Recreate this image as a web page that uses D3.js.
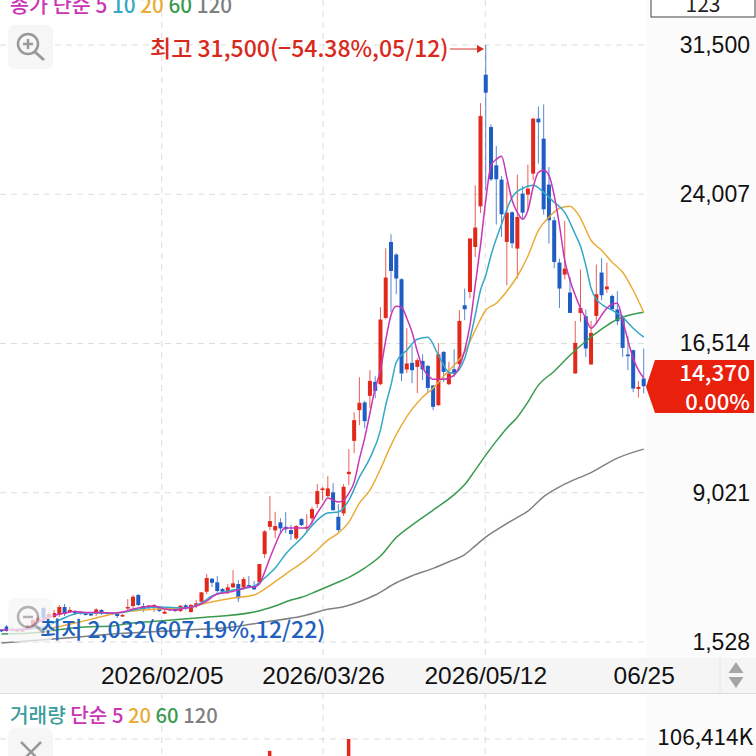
<!DOCTYPE html>
<html>
<head>
<meta charset="utf-8">
<style>
  html, body { margin: 0; padding: 0; background: #fff; overflow: hidden; }
  svg { display: block; font-family: "Noto Sans CJK KR", "Noto Sans", sans-serif; }
</style>
<script src="https://cdnjs.cloudflare.com/ajax/libs/d3/7.8.5/d3.min.js"></script>
</head>
<body>
<div id="chart"></div>
<script>
// candles, oldest first
const opens = [2155,2306,2105,2080,2080,2180,2280,2582,3234,2732,2782,2883,3284,3033,3083,3033,2958,2933,2958,3133,3008,2983,2933,2832,3209,3334,3886,3334,3234,3284,3299,2948,3199,3184,3083,3369,3033,3334,3550,4052,4704,4523,4187,4021,4272,4438,4272,4388,4338,4523,5943,7313,7132,7533,7313,7147,6731,7699,7232,7734,8451,9154,8853,9038,7814,7985,9957,11627,13167,13554,13885,14587,14472,17798,21611,20979,19740,15209,15541,15340,15641,15390,14407,13418,16093,14472,15224,15475,18435,19102,21360,23402,30009,27381,25459,24742,21611,23101,21280,24039,23989,25043,27802,26799,24491,22700,20578,19975,19072,15009,18049,17883,15460,17899,20076,19238,18902,18220,17798,15962,16178,14236,14758];
const highs = [2180,2381,2280,2180,2180,2381,2682,2832,3284,3033,3133,3384,3434,3284,3133,3083,2983,2958,3234,3184,3033,3008,2998,2933,3685,3886,3936,3485,3384,3434,3334,3133,3234,3234,3384,3434,3434,3635,4037,4940,4739,4839,4237,4438,5140,4639,4789,4839,4588,5441,7147,8853,8065,7749,8050,7398,7398,7749,7950,8316,9455,9304,9856,9505,8451,9455,11211,13067,14823,13634,15174,14873,18335,21295,21997,21044,19790,17281,16393,15776,15977,15425,14422,16544,16127,15591,16228,18185,19273,21797,24456,28585,31500,27516,26427,24922,24621,23151,24992,24421,25495,27852,28419,28519,25374,22866,20778,22665,19855,17648,20226,18220,17648,20477,20808,20578,18972,19138,17934,16895,16203,14638,16263];
const lows = [2032,2040,2055,2055,2055,2130,2180,2481,2632,2632,2732,2782,2832,2983,2883,2908,2858,2832,2832,2883,2908,2883,2732,2782,3133,3234,3334,3033,3133,3033,3033,2933,3083,3033,3033,3133,3008,3234,3434,3936,4287,3986,3986,3936,4237,3535,4137,4237,4137,4388,5742,7147,6746,6997,6997,6645,6645,7348,6997,7398,8251,8652,8803,8115,7062,7849,9405,11010,12415,12264,13268,13769,14422,17733,18099,18987,14622,15024,14522,14020,14673,14070,13167,13368,14587,14422,14838,15425,17683,18787,20858,23066,24205,24671,22484,21862,19439,21295,19775,22785,23201,24707,25545,22985,21530,20291,18300,19740,18049,15009,17598,15841,15460,17517,18686,19053,18185,17432,15841,15174,14070,13805,14005];
const closes = [2060,2080,2180,2130,2130,2330,2632,2732,2732,2933,2983,3284,2933,3133,2968,2958,2908,2883,3159,2958,2958,2933,2832,2883,3284,3801,3384,3159,3359,3384,3083,3048,3148,3083,3349,3219,3384,3470,4021,4739,4503,4087,4052,4272,4473,3720,4689,4312,4172,5441,7082,7599,7348,7232,7182,6946,7348,7398,7313,8201,9104,9239,9239,8150,7147,9320,10072,12666,13534,12616,14638,14136,17718,19825,20156,19775,15009,15510,15174,15676,15209,14286,13333,15977,15089,15009,15009,17648,18235,21782,22333,27932,29107,24757,24757,22999,23086,21546,22866,23086,24290,27802,27616,23252,22700,20608,19273,20277,18049,16544,18300,16263,17045,18987,18937,19374,18235,17633,16293,15877,14256,14336,14370];

// moving averages: candle index + price
const ma5Idx = [0,5,7,10,12,14,16,19,21,23,25,27,29,31,33,35,37,39,41,43,45,47,48,49,50,51,52,53,54,56,58,59,60,61,62,63,64,65,66,67,68,69,70,71,72,73,74,75,76,77,78,79,80,81,82,84,86,87,88,89,90,91,92,93,94,95,96,97,98,99,100,101,102,103,104,105,106,107,108,109,110,111,112,113,114,115,116,117,118,119,120,121,122];
const ma5 = [2130,2180,2531,2858,2983,3058,3008,3008,2983,3033,3184,3284,3334,3184,3133,3234,3334,3585,3936,4011,4137,4287,4287,4438,5040,5742,6395,6997,7247,7247,7247,7548,8000,8401,8752,8652,8552,8652,9003,9555,10709,11763,13017,14271,15174,16680,17934,18385,18335,17783,17081,16127,15325,14923,14722,14722,14923,15375,16178,17432,19439,21445,23703,25459,25760,25911,24857,23703,23101,22750,23201,24355,25108,25208,24957,23954,22449,20693,19690,18937,18285,17783,17281,17532,17934,18285,18486,18536,17683,16680,15776,15174,14773];
const ma10Idx = [2,8,11,15,22,26,30,35,38,40,44,48,50,52,54,57,60,62,64,66,68,70,72,73,74,75,77,79,81,83,85,86,88,90,91,92,93,95,97,99,101,103,105,107,109,110,111,112,113,114,116,118,120,122];
const ma10 = [2130,2280,2632,2983,2983,3184,3284,3234,3485,3836,4137,4338,4739,5241,5943,6746,7649,8000,8050,8652,9806,10759,12164,13418,14422,15575,16178,16730,16830,15927,15073,15023,15776,17934,19188,19940,20944,22499,23853,24305,24456,24105,23603,23101,21997,21395,20442,19288,18737,18486,18185,17833,17281,16830];
const ma20Idx = [8,14,18,22,26,30,35,39,44,48,50,54,58,60,62,64,66,68,70,72,74,76,78,80,82,84,86,88,90,92,94,96,98,100,102,104,106,108,110,112,114,116,118,120,122];
const ma20 = [2130,2481,2732,2983,3108,3184,3234,3485,3735,3886,4187,4940,5692,6144,6645,6997,7548,8501,9154,10207,11412,12415,13217,13820,14271,14873,15425,16077,17181,18185,18536,19138,19890,20894,22198,22850,23301,23401,22800,21696,21195,20593,20091,19188,18084];
const ma60Idx = [0,7,12,16,21,25,30,37,48,52,55,57,60,64,66,69,72,75,78,82,86,88,90,92,94,96,98,100,102,105,108,111,114,117,120,122];
const ma60 = [1929,2005,2180,2280,2331,2481,2582,2732,3033,3334,3635,3771,4087,4538,4774,5241,5843,6771,7398,8150,8928,9430,10157,10910,11612,12264,12816,13569,14422,15124,15927,16629,17231,17733,17984,18084];
const ma120Idx = [0,11,24,37,44,50,57,62,65,68,71,75,78,82,85,88,90,92,95,98,100,103,107,112,117,122];
const ma120 = [1478,1704,1980,2155,2280,2531,2817,3169,3299,3550,3886,4503,4854,5226,5557,5918,6354,6796,7313,7784,8100,8828,9455,10032,10759,11211];

// only the tops of the two biggest volume bars are on screen
const volIdx = [51,66];
const volValues = [96000,106414];

const yTicks = [1528,9021,16514,24007,31500];
const xTickIdx = [30.45,61.1,91.9,122];
const xTickLabels = ["2026/02/05","2026/03/26","2026/05/12","06/25"];

const RED = "#e2281b", BLUE = "#1f5cc4";
const C5 = "#c935b5", C10 = "#33a7c7", C20 = "#e9ad3a", C60 = "#3a9b4f", C120 = "#808080";

(function() {

  const svg = d3.select("#chart").append("svg").attr("width", 756).attr("height", 756);

  const x = d3.scaleLinear().domain([0,122]).range([1.4,643.7]);
  const y = d3.scaleLinear().domain([1528,31500]).range([642,45]);
  const yVol = d3.scaleLinear().domain([0,106414]).range([860,739]);

  //right hand price panel and date band
  svg.append("rect").attr("x",646).attr("y",0).attr("width",110).attr("height",756).attr("fill","#fbfbfb");
  svg.append("rect").attr("x",0).attr("y",658).attr("width",756).attr("height",35).attr("fill","#f5f5f5");
  svg.append("line").attr("x1",0).attr("x2",756).attr("y1",693.5).attr("y2",693.5).attr("stroke","#dcdcdc");
  svg.append("line").attr("x1",720).attr("x2",720).attr("y1",658).attr("y2",693).attr("stroke","#e6e6e6");

  //grid
  const grid = svg.append("g").attr("stroke","#dddddd").attr("stroke-dasharray","6,5");
  grid.selectAll(".gy").data(yTicks).join("line").attr("class","gy")
    .attr("x1",0).attr("x2",646).attr("y1",d => y(d)).attr("y2",d => y(d));
  grid.selectAll(".gx").data(xTickIdx.slice(0,3)).join("line").attr("class","gx")
    .attr("x1",d => x(d)).attr("x2",d => x(d)).attr("y1",0).attr("y2",658);
  grid.selectAll(".gx2").data(xTickIdx.slice(0,3)).join("line").attr("class","gx2")
    .attr("x1",d => x(d)).attr("x2",d => x(d)).attr("y1",693).attr("y2",756);
  grid.append("line").attr("x1",0).attr("x2",646).attr("y1",yVol(106414)).attr("y2",yVol(106414));

  //candles
  const candles = svg.append("g").selectAll("g").data(opens).join("g")
    .attr("fill",(d,i) => closes[i] >= d ? RED : BLUE)
    .attr("stroke",(d,i) => closes[i] >= d ? RED : BLUE);
  candles.append("line")
    .attr("x1",(d,i) => x(i)).attr("x2",(d,i) => x(i))
    .attr("y1",(d,i) => y(highs[i])).attr("y2",(d,i) => y(lows[i]))
    .attr("stroke-width",1).attr("stroke-opacity",.75);
  candles.append("rect")
    .attr("x",(d,i) => x(i) - 2).attr("width",4)
    .attr("y",(d,i) => y(Math.max(d,closes[i])))
    .attr("height",(d,i) => Math.max(1.5, y(Math.min(d,closes[i])) - y(Math.max(d,closes[i]))))
    .attr("stroke","none");

  //moving averages
  function maLine(idx, vals, color) {
    const line = d3.line().x(d => x(d)).y((d,i) => y(vals[i])).curve(d3.curveMonotoneX);
    svg.append("path").datum(idx).attr("d",line).attr("fill","none").attr("stroke",color).attr("stroke-width",1.5);
  }
  maLine(ma120Idx, ma120, C120);
  maLine(ma60Idx, ma60, C60);
  maLine(ma20Idx, ma20, C20);
  maLine(ma10Idx, ma10, C10);
  maLine(ma5Idx, ma5, C5);

  //volume tops
  svg.append("g").selectAll("rect").data(volIdx).join("rect")
    .attr("x",d => x(d) - 2).attr("width",3.5)
    .attr("y",(d,i) => yVol(volValues[i])).attr("height",(d,i) => 860 - yVol(volValues[i]))
    .attr("fill",RED);

  //price axis
  const yAxis = svg.append("g").attr("transform","translate(750,0)")
    .call(d3.axisLeft(y).tickValues(yTicks).tickSize(0).tickFormat(d3.format(",")));
  yAxis.select(".domain").remove();
  yAxis.selectAll("text").attr("x",0).attr("font-size",23).attr("font-family","inherit").attr("fill","#111");

  //date axis
  const xAxis = svg.append("g").attr("transform","translate(0,675)")
    .call(d3.axisBottom(x).tickValues(xTickIdx).tickSize(0).tickFormat((d,i) => xTickLabels[i]));
  xAxis.select(".domain").remove();
  xAxis.selectAll("text").attr("y",0).attr("dy","0.36em").attr("font-size",24.5).attr("font-family","inherit").attr("fill","#111");

  //spinner
  svg.append("path").attr("d","M736 662l7.5 11h-15zM736 688l7.5 -11h-15z").attr("fill","#a5a5a5");

  //top right box
  svg.append("rect").attr("x",651).attr("y",-2).attr("width",104).attr("height",19).attr("fill","#fff").attr("stroke","#444");
  svg.append("text").attr("x",703).attr("y",12).attr("text-anchor","middle").attr("font-size",21).attr("fill","#222").text("123");

  //legends
  function legend(yPos, size, parts) {
    const t = svg.append("text").attr("x",10).attr("y",yPos).attr("font-size",size).attr("font-weight",500);
    t.selectAll("tspan").data(parts).join("tspan").attr("fill",d => d[1]).text(d => d[0] + " ");
  }
  legend(13, 20.7, [["종가 단순 5",C5],["10",C10],["20",C20],["60",C60],["120",C120]]);
  legend(723, 20.2, [["거래량","#3c9c9c"],["단순 5",C5],["20",C20],["60",C60],["120",C120]]);

  //high marker
  svg.append("text").attr("x",150).attr("y",57).attr("font-size",23).attr("font-weight",500).attr("fill","#d8291d")
    .text("최고 31,500(−54.38%,05/12)");
  svg.append("line").attr("x1",450).attr("x2",479).attr("y1",49).attr("y2",49).attr("stroke","#e07a70").attr("stroke-width",1.5);
  svg.append("path").attr("d","M484 49l-7 -4v8z").attr("fill","#d8291d");

  //magnifier buttons
  function button(bx, by, opacity, mark) {
    const g = svg.append("g").attr("transform",`translate(${bx},${by})`).attr("opacity",opacity);
    g.append("rect").attr("width",45).attr("height",44).attr("rx",7).attr("fill","#f6f6f6");
    g.append("circle").attr("cx",20).attr("cy",19).attr("r",10).attr("fill","none").attr("stroke","#999").attr("stroke-width",2.5);
    g.append("line").attr("x1",27).attr("y1",27).attr("x2",36).attr("y2",35).attr("stroke","#999").attr("stroke-width",3);
    g.append("path").attr("d",mark).attr("fill","none").attr("stroke","#999").attr("stroke-width",2.5);
  }
  button(8, 25, 1, "M15 19h10M20 14v10");
  button(8, 598, .75, "M15 19h10");

  //close button of the volume panel
  svg.append("rect").attr("x",8).attr("y",728).attr("width",45).attr("height",40).attr("rx",7).attr("fill","#f6f6f6");
  svg.append("path").attr("d","M21 742l20 20M41 742l-20 20").attr("stroke","#999").attr("stroke-width",2.5);

  //low marker goes over the button
  svg.append("text").attr("x",40).attr("y",638).attr("font-size",23).attr("font-weight",500).attr("fill","#2160bd")
    .text("최저 2,032(607.19%,12/22)");

  //last price tag
  svg.append("path").attr("d","M646 387L655 360H754V413H655Z").attr("fill","#e8200c");
  svg.append("text").attr("x",750).attr("y",381).attr("text-anchor","end").attr("font-size",22.5).attr("font-weight",500).attr("fill","#fff")
    .text(d3.format(",")(closes[closes.length - 1]));
  svg.append("text").attr("x",750).attr("y",410).attr("text-anchor","end").attr("font-size",22).attr("font-weight",500).attr("fill","#fff").text("0.00%");

  //volume axis label
  svg.append("text").attr("x",753).attr("y",745).attr("text-anchor","end").attr("font-size",22.5).attr("fill","#111").text("106,414K");
})();
</script>
</body>
</html>
